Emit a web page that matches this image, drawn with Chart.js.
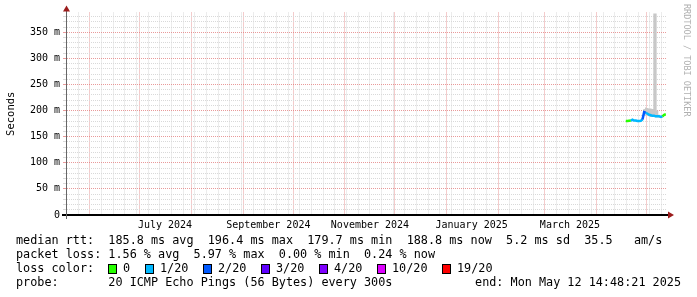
<!DOCTYPE html>
<html>
<head>
<meta charset="utf-8">
<script src="https://cdn.jsdelivr.net/npm/chart.js@4.4.1/dist/chart.umd.min.js"></script>
<style>
  html, body { margin: 0; padding: 0; background: #fff; }
</style>
</head>
<body>
<canvas id="chart" width="697" height="297"></canvas>
<script>
const DAY = 86400000;
const endTime = Date.UTC(2025, 4, 12, 14, 48, 21);
const startTime = endTime - 360 * DAY;

// one sample per day (noon), median rtt in ms
const sampleDays = ['2025-04-18', '2025-04-19', '2025-04-20', '2025-04-21', '2025-04-22',
  '2025-04-23', '2025-04-24', '2025-04-25', '2025-04-26', '2025-04-27', '2025-04-28',
  '2025-04-29', '2025-04-30', '2025-05-01', '2025-05-02', '2025-05-03', '2025-05-04',
  '2025-05-05', '2025-05-06', '2025-05-07', '2025-05-08', '2025-05-09', '2025-05-10',
  '2025-05-11', '2025-05-12'];
const medianRtt = [180, 180, 180.5, 181, 182.5, 181, 181, 180, 180, 180.5, 183,
  197, 196, 194, 192, 191, 190, 190, 189, 189, 189, 188, 189, 192, 193];
// index into lossColors
const lossIndex = [0, 0, 0, 0, 1, 1, 1, 1, 1, 1, 1, 2, 2, 1, 1, 1, 1, 1, 1, 1, 1, 1, 1, 0, 0];
// smoke (ping spread) low / high in ms
const smokeLow = [179, 179, 179.5, 180, 181, 180, 180, 179, 179, 179.5, 181,
  190, 192, 191, 189, 188, 188, 188, 187, 187, 187, 186, 187, 190, 191];
const smokeHigh = [181, 181, 182, 182, 184, 182, 182, 181, 181, 182, 186,
  203, 206, 205, 204, 204, 203, 386, 386, 200, 192, 190, 190, 193, 194];

const lossColors = ['#26ff00', '#00b8ff', '#0059ff', '#5e00ff', '#7e00ff', '#dd00ff', '#ff0000'];
const lossLabels = ['0', '1/20', '2/20', '3/20', '4/20', '10/20', '19/20'];

const yMaxMs = 388;
const yStepMs = 10;
const yMajorMs = 50;

const monthStarts = ['2024-06-01', '2024-07-01', '2024-08-01', '2024-09-01', '2024-10-01',
  '2024-11-01', '2024-12-01', '2025-01-01', '2025-02-01', '2025-03-01', '2025-04-01', '2025-05-01'];
const monthLabelDays = ['2024-07-16', '2024-09-16', '2024-11-16', '2025-01-16', '2025-03-16'];
const monthLabels = ['July 2024', 'September 2024', 'November 2024', 'January 2025', 'March 2025'];
const firstWeekLine = '2024-05-25';

const legendLines = [
  'median rtt:  185.8 ms avg  196.4 ms max  179.7 ms min  188.8 ms now  5.2 ms sd  35.5   am/s',
  'packet loss: 1.56 % avg  5.97 % max  0.00 % min  0.24 % now',
  'loss color:',
  'probe:       20 ICMP Echo Pings (56 Bytes) every 300s'
];
const endText = 'end: Mon May 12 14:48:21 2025';
const watermark = 'RRDTOOL / TOBI OETIKER';

const toTime = d => Date.parse(d + 'T00:00:00Z');
const sampleTimes = sampleDays.map(d => toTime(d) + DAY / 2);
const majorX = new Set(monthStarts.map(toTime));
const labelX = new Map(monthLabelDays.map((d, i) => [toTime(d), monthLabels[i]]));
const minorX = new Set();
for (let t = toTime(firstWeekLine); t < endTime; t += 7 * DAY) {
  if (!majorX.has(t)) minorX.add(t);
}

const MONO = '"DejaVu Sans Mono", monospace';
Chart.defaults.font.family = MONO;

const majorGrid = 'rgba(225,120,120,0.75)';
const minorGrid = '#d9d9d9';

const decor = {
  id: 'decor',
  afterDraw(chart) {
    const ctx = chart.ctx;
    const { left, right, top, bottom } = chart.chartArea;
    ctx.save();
    // axis extensions and arrows
    ctx.strokeStyle = '#000';
    ctx.lineWidth = 2;
    ctx.beginPath();
    ctx.moveTo(left - 4, bottom);
    ctx.lineTo(right + 3, bottom);
    ctx.stroke();
    ctx.strokeStyle = '#666';
    ctx.lineWidth = 1;
    ctx.beginPath();
    ctx.moveTo(left + 0.5, top - 2);
    ctx.lineTo(left + 0.5, bottom + 4);
    ctx.stroke();
    ctx.fillStyle = '#9b1c1c';
    ctx.beginPath();
    ctx.moveTo(right + 8, bottom);
    ctx.lineTo(right + 2, bottom - 3.5);
    ctx.lineTo(right + 2, bottom + 3.5);
    ctx.closePath();
    ctx.fill();
    ctx.beginPath();
    ctx.moveTo(left + 0.5, top - 7);
    ctx.lineTo(left - 3, top - 1);
    ctx.lineTo(left + 4, top - 1);
    ctx.closePath();
    ctx.fill();

    // legend
    ctx.font = '11.8px ' + MONO;
    ctx.fillStyle = '#000';
    ctx.textBaseline = 'middle';
    ctx.textAlign = 'left';
    const rowY = [241, 255, 269, 283];
    legendLines.forEach((line, i) => ctx.fillText(line, 16, rowY[i]));
    ctx.textAlign = 'right';
    ctx.fillText(endText, 681, rowY[3]);
    ctx.textAlign = 'left';
    let x = 108;
    lossLabels.forEach((lab, i) => {
      ctx.fillStyle = lossColors[i];
      ctx.fillRect(x, rowY[2] - 4.5, 8, 9);
      ctx.strokeStyle = '#000';
      ctx.lineWidth = 1;
      ctx.strokeRect(x + 0.5, rowY[2] - 4.5, 8, 9);
      ctx.fillStyle = '#000';
      ctx.fillText(lab, x + 15, rowY[2]);
      x += 15 + lab.length * 7 + 15;
    });

    // watermark
    ctx.font = '8.5px ' + MONO;
    ctx.fillStyle = '#b0b0b0';
    ctx.translate(686, 4);
    ctx.rotate(Math.PI / 2);
    ctx.textBaseline = 'middle';
    ctx.fillText(watermark, 0, 0);
    ctx.restore();
  }
};

new Chart(document.getElementById('chart'), {
  type: 'line',
  data: {
    datasets: [
      {
        label: 'median rtt',
        data: medianRtt.map((v, i) => ({ x: sampleTimes[i], y: v })),
        order: 0,
        borderWidth: 2.5,
        borderColor: lossColors[1],
        segment: { borderColor: c => lossColors[lossIndex[c.p1DataIndex]] },
        pointRadius: 0,
        fill: false
      },
      {
        label: 'smoke low',
        data: smokeLow.map((v, i) => ({ x: sampleTimes[i], y: v })),
        order: 2,
        stepped: 'middle',
        borderWidth: 0,
        borderColor: 'transparent',
        pointRadius: 0,
        fill: false
      },
      {
        label: 'smoke high',
        data: smokeHigh.map((v, i) => ({ x: sampleTimes[i], y: v })),
        order: 1,
        stepped: 'middle',
        borderWidth: 0,
        borderColor: 'transparent',
        backgroundColor: '#c8c8c8',
        pointRadius: 0,
        fill: '-1'
      }
    ]
  },
  options: {
    responsive: false,
    animation: false,
    layout: { padding: { left: 0, right: 31, top: 12.5, bottom: 64 }, autoPadding: false },
    plugins: { legend: { display: false }, tooltip: { enabled: false } },
    scales: {
      x: {
        type: 'linear',
        min: startTime,
        max: endTime,
        bounds: 'data',
        afterBuildTicks: s => {
          const vals = [...new Set([...majorX, ...minorX, ...labelX.keys()])].sort((a, b) => a - b);
          s.ticks = vals.map(v => ({ value: v }));
        },
        afterFit: s => { s.height = 18; },
        grid: {
          drawTicks: false,
          lineWidth: 1,
          color: c => majorX.has(c.tick.value) ? majorGrid : (minorX.has(c.tick.value) ? minorGrid : 'rgba(0,0,0,0)')
        },
        border: { color: '#000', width: 2, dash: [1, 1] },
        ticks: {
          autoSkip: false,
          maxRotation: 0,
          minRotation: 0,
          padding: 4,
          color: '#000',
          font: { size: 10 },
          callback: v => labelX.get(v) || ''
        }
      },
      y: {
        min: 0,
        max: yMaxMs,
        afterBuildTicks: s => {
          const t = [];
          for (let v = 0; v <= yMaxMs; v += yStepMs) t.push({ value: v });
          s.ticks = t;
        },
        afterFit: s => { s.width = 66; },
        grid: {
          tickLength: 3,
          lineWidth: 1,
          color: c => c.tick.value % yMajorMs === 0 ? majorGrid : minorGrid
        },
        border: { color: '#666', width: 1, dash: [1, 1] },
        ticks: {
          autoSkip: false,
          padding: 3,
          color: '#000',
          font: { size: 10 },
          callback: v => v % yMajorMs !== 0 ? '' : (v === 0 ? '0' : v + ' m')
        },
        title: {
          display: true,
          text: 'Seconds',
          color: '#000',
          font: { size: 10.5 },
          padding: { top: 5, bottom: 0 }
        }
      }
    }
  },
  plugins: [decor]
});
</script>
</body>
</html>
